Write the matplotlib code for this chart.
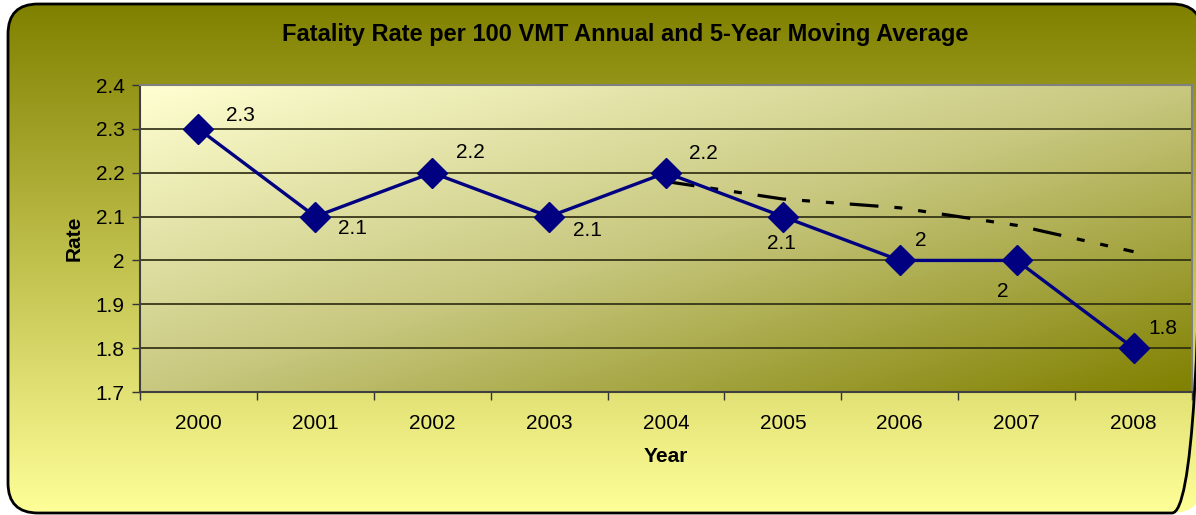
import numpy as np
from matplotlib import pyplot as plt
from matplotlib.patches import FancyBboxPatch
from matplotlib.colors import LinearSegmentedColormap

# Data
years = ['2000', '2001', '2002', '2003', '2004', '2005', '2006', '2007', '2008']
rate = [2.3, 2.1, 2.2, 2.1, 2.2, 2.1, 2.0, 2.0, 1.8]
moving_avg = [2.18, 2.14, 2.12, 2.08, 2.02]   # 2004..2008
rate_labels = ['2.3', '2.1', '2.2', '2.1', '2.2', '2.1', '2', '2', '1.8']
yticks = [1.7, 1.8, 1.9, 2.0, 2.1, 2.2, 2.3, 2.4]
ytick_labels = ['1.7', '1.8', '1.9', '2', '2.1', '2.2', '2.3', '2.4']

# label offsets in pixels (dx, dy up)
label_offsets = [(42, 13), (37, -12), (38, 20), (38, -14), (37, 19),
                 (-1, -27), (21, 20), (-14, -31), (29, 20)]

plt.rcParams['font.family'] = ['Liberation Sans', 'DejaVu Sans']

W, H = 1196, 515
fig = plt.figure(figsize=(W / 100, H / 100), dpi=100)
fig.patch.set_facecolor('white')

# Outer chart area: rounded box with vertical gradient
bg = fig.add_axes([0, 0, 1, 1])
bg.set_xlim(0, W)
bg.set_ylim(H, 0)
bg.axis('off')
outer_cmap = LinearSegmentedColormap.from_list('outer', ['#808000', '#FFFF99'])
grad = np.linspace(0, 1, 256).reshape(-1, 1)
img = bg.imshow(grad, cmap=outer_cmap, aspect='auto', extent=[8, 1202, 513, 4], zorder=0)
box = FancyBboxPatch((8, 4), 1194, 509, boxstyle='round,pad=0,rounding_size=30',
                     facecolor='none', edgecolor='black', linewidth=2, zorder=2)
bg.add_patch(box)
img.set_clip_path(box)

# Plot area
ax = fig.add_axes([140 / W, 1 - 392 / H, 1052 / W, 307 / H])
ax.set_facecolor('none')
inner_cmap = LinearSegmentedColormap.from_list('inner', ['#FFFFD2', '#C8C880', '#808000'])
gx, gy = np.meshgrid(np.linspace(0, 1, 300), np.linspace(0, 1, 300))
diag = (gx + gy) / 2
ax.imshow(diag, cmap=inner_cmap, aspect='auto', extent=[0, 1, 0, 1], origin='upper',
          transform=ax.transAxes, zorder=0)

x = np.arange(len(years))
ax.set_xlim(-0.5, len(years) - 0.5)
ax.set_ylim(1.7, 2.4)

for yv in yticks[1:-1]:
    ax.axhline(yv, color='#2a2a10', linewidth=1.2, zorder=1)

ax.plot(x, rate, color='#000080', linewidth=2.4, marker='D', markersize=15,
        markerfacecolor='#000080', markeredgecolor='#000080', zorder=4)

ma_x = x[len(x) - len(moving_avg):]
ax.plot(ma_x, moving_avg, color='black', linewidth=2.3,
        dashes=(9, 5, 2.5, 5, 2.5, 5), zorder=3)

for xi, yi, lab, (dx, dy) in zip(x, rate, rate_labels, label_offsets):
    ax.annotate(lab, (xi, yi), xytext=(dx * 0.72, dy * 0.72), textcoords='offset points',
                ha='center', va='center', fontsize=15, zorder=5)

ax.set_yticks(yticks)
ax.set_yticklabels(ytick_labels, fontsize=15)
ax.set_xticks(x)
ax.set_xticklabels(years, fontsize=15)
ax.set_xticks(np.arange(-0.5, len(years)), minor=True)
ax.tick_params(axis='x', which='major', length=0, pad=16)
ax.tick_params(axis='x', which='minor', length=6, width=1, color='#333333')
ax.tick_params(axis='y', length=6, width=1, color='#333333', pad=5)

for side in ['top', 'right']:
    ax.spines[side].set_color('#808080')
    ax.spines[side].set_linewidth(1.5)
for side in ['left', 'bottom']:
    ax.spines[side].set_color('#404040')
    ax.spines[side].set_linewidth(1.5)

ax.set_xlabel('Year', fontsize=15, fontweight='bold', labelpad=10)
ax.set_ylabel('Rate', fontsize=15, fontweight='bold', labelpad=9)

fig.text(625 / W, 1 - 35 / H, 'Fatality Rate per 100 VMT Annual and 5-Year Moving Average',
         ha='center', va='center', fontsize=17, fontweight='bold')

fig.savefig('out.png', dpi=100)
